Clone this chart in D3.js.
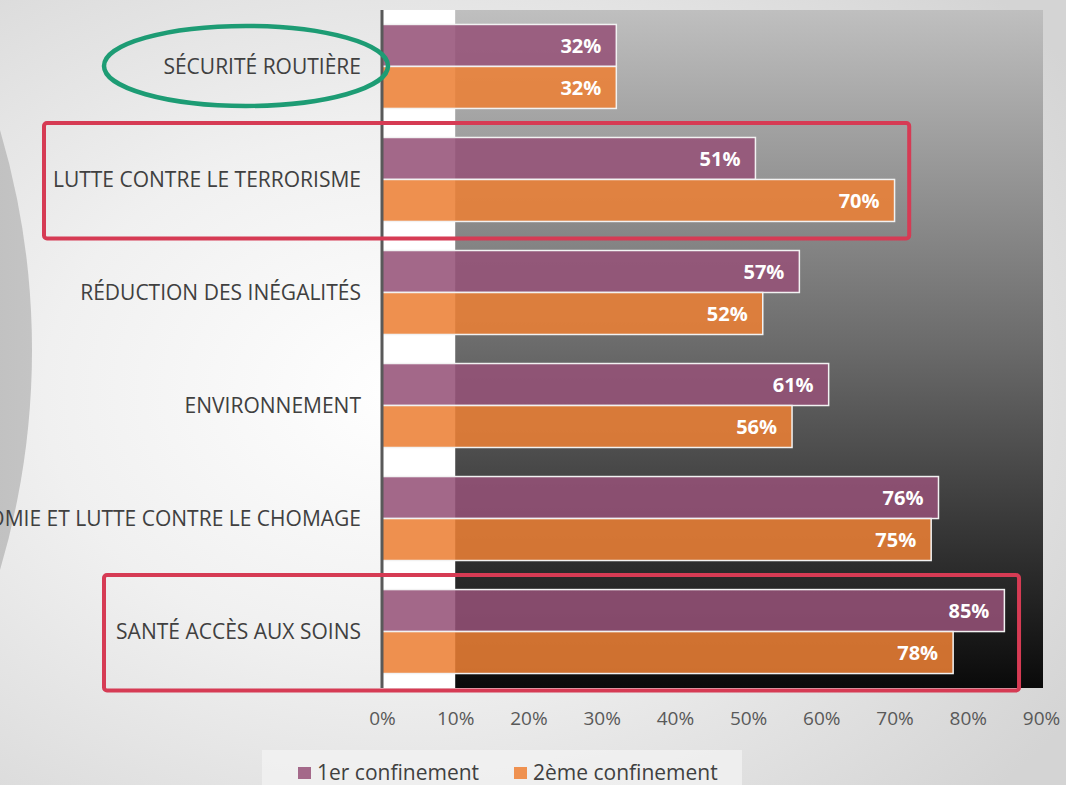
<!DOCTYPE html>
<html><head><meta charset="utf-8">
<script src="https://cdn.jsdelivr.net/npm/d3@7"></script>
<style>html,body{margin:0;padding:0;background:#e4e4e4;overflow:hidden}svg{display:block}</style>
</head><body>
<svg id="chart" width="1066" height="785"></svg>
<script>
const categories = ["SÉCURITÉ ROUTIÈRE","LUTTE CONTRE LE TERRORISME","RÉDUCTION DES INÉGALITÉS","ENVIRONNEMENT","ÉCONOMIE ET LUTTE CONTRE LE CHOMAGE","SANTÉ ACCÈS AUX SOINS"];
const seriesNames = ["1er confinement","2ème confinement"];
const firstLockdown = [0.32,0.51,0.57,0.61,0.76,0.85];
const secondLockdown = [0.32,0.70,0.52,0.56,0.75,0.78];
const tickValues = [0,0.1,0.2,0.3,0.4,0.5,0.6,0.7,0.8,0.9];
const highlightedBoxes = [
  {category:"LUTTE CONTRE LE TERRORISME", left:44, right:0.72},
  {category:"SANTÉ ACCÈS AUX SOINS", left:104, right:0.87}
];
const circledCategory = "SÉCURITÉ ROUTIÈRE";

const W=1066,H=785;
const svg=d3.select("#chart");
const defs=svg.append("defs");
const FONT="'Open Sans', 'Noto Sans', sans-serif";

const x=d3.scaleLinear().domain([0,0.9]).range([382,1041]);
const y=d3.scaleBand().domain(categories).range([10,688]).paddingInner(0.257).paddingOuter(0.128);
const ys=d3.scaleBand().domain(seriesNames).range([0,y.bandwidth()]);
const barColors=["#955277","#ec8035"];
const legendColors=["#a4698a","#ef9150"];

// background
const rg=defs.append("radialGradient").attr("id","bg").attr("cx",0.38).attr("cy",0.5).attr("r",0.75);
rg.append("stop").attr("offset","0").attr("stop-color","#ffffff");
rg.append("stop").attr("offset","0.45").attr("stop-color","#f0f0f0");
rg.append("stop").attr("offset","1").attr("stop-color","#d4d4d4");
svg.append("rect").attr("width",W).attr("height",H).attr("fill","url(#bg)");
// left arc
const ag=defs.append("linearGradient").attr("id","arc").attr("x1",0).attr("x2",1).attr("y1",0).attr("y2",0);
ag.append("stop").attr("offset","0.9").attr("stop-color","#b8b8b8");
ag.append("stop").attr("offset","1").attr("stop-color","#c4c4c4");
svg.append("circle").attr("cx",-740).attr("cy",350).attr("r",772).attr("fill","url(#arc)");

// plot backgrounds
svg.append("rect").attr("x",x(0)).attr("y",10).attr("width",x(0.1)-x(0)).attr("height",678).attr("fill","#ffffff");
const dg=defs.append("linearGradient").attr("id","dark").attr("x1",0).attr("x2",0).attr("y1",0).attr("y2",1);
dg.append("stop").attr("offset","0").attr("stop-color","#bfbfbf");
dg.append("stop").attr("offset","0.5").attr("stop-color","#6a6a6a");
dg.append("stop").attr("offset","1").attr("stop-color","#0a0a0a");
svg.append("rect").attr("x",x(0.1)).attr("y",10).attr("width",x(0.9)-x(0.1)+2).attr("height",678).attr("fill","url(#dark)");

// bars
const series=[firstLockdown,secondLockdown];
series.forEach((vals,si)=>{
  const g=svg.append("g");
  g.selectAll("rect").data(categories).join("rect")
    .attr("x",x(0)).attr("y",(c)=>y(c)+ys(seriesNames[si]))
    .attr("width",(c,i)=>x(vals[i])-x(0)).attr("height",ys.bandwidth())
    .attr("fill",barColors[si]).attr("fill-opacity",0.87)
    .attr("stroke","#f2f2f2").attr("stroke-width",1.5);
  g.selectAll("text").data(categories).join("text")
    .attr("x",(c,i)=>x(vals[i])-15).attr("y",(c)=>y(c)+ys(seriesNames[si])+ys.bandwidth()/2)
    .attr("dy","0.36em").attr("text-anchor","end")
    .attr("font-family",FONT).attr("font-weight","bold").attr("font-size",20).attr("fill","#ffffff")
    .text((c,i)=>Math.round(vals[i]*100)+"%");
});

// axis line
svg.append("line").attr("x1",x(0)).attr("x2",x(0)).attr("y1",10).attr("y2",688).attr("stroke","#595959").attr("stroke-width",3);

// category labels
svg.append("g").selectAll("text").data(categories).join("text")
  .attr("x",x(0)-21).attr("y",c=>y(c)+y.bandwidth()/2).attr("dy","0.36em")
  .attr("text-anchor","end").attr("font-family",FONT).attr("font-size",21).attr("fill","#404040")
  .text(c=>c);

// x axis ticks
const xAxis=d3.axisBottom(x).tickValues(tickValues).tickFormat(d3.format(".0%")).tickSize(0).tickPadding(0);
const ax=svg.append("g").attr("transform","translate(0,711)").call(xAxis);
ax.select(".domain").remove();
ax.selectAll("text").attr("font-family",FONT).attr("font-size",19).attr("fill","#595959");

// annotations
highlightedBoxes.forEach(b=>{
  const top=y(b.category)-y.step()*y.paddingInner()/2;
  const bottom=y(b.category)+y.bandwidth()+17;
  svg.append("rect").attr("x",b.left).attr("y",top).attr("width",x(b.right)-b.left).attr("height",bottom-top)
    .attr("rx",3).attr("fill","none").attr("stroke","#d63b54").attr("stroke-width",4);
});
svg.append("ellipse").attr("cx",246).attr("cy",y(circledCategory)+y.bandwidth()/2-0.5).attr("rx",142).attr("ry",40)
  .attr("fill","none").attr("stroke","#1d9c74").attr("stroke-width",4.5);

// legend
svg.append("rect").attr("x",262).attr("y",750).attr("width",480).attr("height",35).attr("fill","#f4f4f4").attr("opacity",0.7);
const legendX=[298,514];
seriesNames.forEach((n,i)=>{
  svg.append("rect").attr("x",legendX[i]).attr("y",767).attr("width",13).attr("height",12).attr("fill",legendColors[i]);
  svg.append("text").attr("x",legendX[i]+19).attr("y",780).attr("font-family",FONT).attr("font-size",21).attr("fill","#404040").text(n);
});
</script>
</body></html>
